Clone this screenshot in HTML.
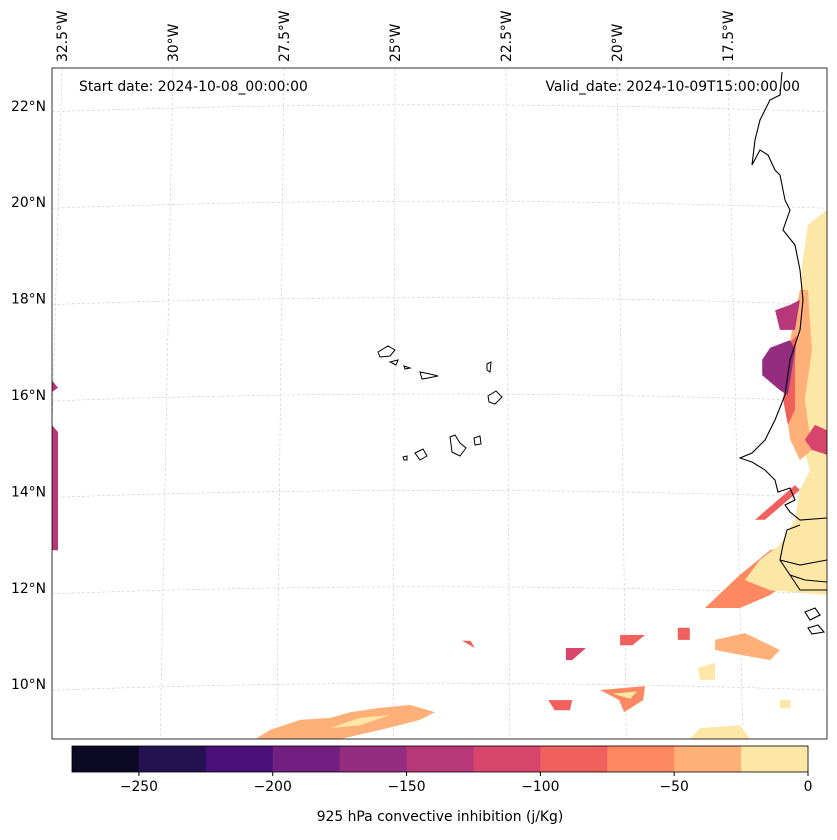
<!DOCTYPE html>
<html><head><meta charset="utf-8"><style>
body{margin:0;background:#fff;font-family:"DejaVu Sans",sans-serif}
svg text{font-family:"DejaVu Sans",sans-serif;font-size:13.9px;fill:#000}
</style></head><body>
<svg id="c" width="837" height="836" xmlns="http://www.w3.org/2000/svg"></svg>
<script>
const levelBounds=[-275,-250,-225,-200,-175,-150,-125,-100,-75,-50,-25,0];
const levelColors=["#0b0924","#231151","#4a1079","#721f81","#942c80","#b73779","#d8456c","#f1605d","#fc8961","#feb078","#fde7a6"];
const cbTicks=[-250,-200,-150,-100,-50,0];
const latTicks=[22,20,18,16,14,12,10];
const lonTicks=[-32.5,-30,-27.5,-25,-22.5,-20,-17.5];
// contour polygons: level index + [lon,lat] vertices
const polyLevels=[8,10,9,7,5,4,6,7,5,5,9,10,10,8,10,7,6,7,7,7,9,10,10];
const polyCoords=[
[[-18.02,11.58],[-17.23,12.27],[-16.55,12.78],[-16.10,12.89],[-16.10,12.16],[-16.55,11.85],[-17.23,11.58]],
[[-15.27,19.84],[-15.70,19.53],[-15.83,18.70],[-15.88,17.97],[-15.77,17.35],[-15.88,16.31],[-15.99,15.48],[-15.65,14.44],[-15.88,14.03],[-15.99,13.41],[-16.33,12.89],[-16.78,12.58],[-17.12,12.16],[-16.55,11.95],[-15.27,11.85]],
[[-15.70,18.18],[-15.88,18.18],[-16.10,17.14],[-16.22,15.90],[-16.10,15.07],[-15.88,14.65],[-15.61,14.86],[-15.77,15.90],[-15.61,16.93]],
[[-15.95,17.24],[-16.15,17.04],[-16.26,15.90],[-16.15,15.38],[-15.99,15.69],[-15.99,16.73]],
[[-16.44,17.76],[-16.10,17.87],[-15.88,17.97],[-15.99,17.35],[-16.33,17.35]],
[[-16.73,16.73],[-16.55,16.98],[-16.10,17.14],[-15.99,16.93],[-16.15,16.00],[-16.33,16.10],[-16.73,16.41]],
[[-15.77,15.07],[-15.54,15.38],[-15.27,15.27],[-15.27,14.76],[-15.61,14.86]],
[[-16.89,13.41],[-16.67,13.41],[-15.88,14.03],[-15.99,14.13]],
[[-32.73,15.38],[-32.59,15.23],[-32.59,12.78],[-32.73,12.78]],
[[-32.73,16.31],[-32.59,16.15],[-32.73,16.06]],
[[-28.15,8.86],[-27.82,9.05],[-27.14,9.26],[-26.46,9.30],[-26.01,9.42],[-25.34,9.51],[-24.66,9.57],[-24.10,9.42],[-24.44,9.26],[-25.34,9.05],[-26.24,8.86]],
[[-26.46,9.09],[-25.79,9.30],[-25.11,9.36],[-25.79,9.15]],
[[-18.36,8.86],[-18.13,9.09],[-17.23,9.15],[-17.00,8.86]],
[[-20.38,9.88],[-19.37,9.96],[-19.41,9.67],[-19.84,9.42],[-19.95,9.67]],
[[-20.10,9.80],[-19.55,9.85],[-19.70,9.70]],
[[-21.55,9.67],[-21.01,9.67],[-21.06,9.46],[-21.40,9.46]],
[[-21.15,10.75],[-20.70,10.75],[-21.01,10.50],[-21.15,10.50]],
[[-19.93,11.02],[-19.37,11.02],[-19.65,10.81],[-19.93,10.81]],
[[-18.63,11.17],[-18.36,11.17],[-18.36,10.92],[-18.63,10.92]],
[[-23.49,10.90],[-23.30,10.90],[-23.20,10.75]],
[[-17.79,10.92],[-17.12,11.06],[-16.33,10.71],[-16.55,10.50],[-17.23,10.61],[-17.79,10.71]],
[[-18.18,10.34],[-17.79,10.44],[-17.79,10.09],[-18.13,10.09]],
[[-16.33,9.67],[-16.10,9.67],[-16.10,9.50],[-16.33,9.50]]
];
const NS="http://www.w3.org/2000/svg";
const svg=document.getElementById('c');
const X=lon=>395+(lon+25)*44.4;
const Y=lat=>395-(lat-16)*48.2;
const AX={l:52,r:827,t:68,b:739};
function el(t,a,p){const e=document.createElementNS(NS,t);for(const k in a)e.setAttribute(k,a[k]);(p||svg).appendChild(e);return e;}
const defs=el('defs',{});const cp=el('clipPath',{id:'clip'},defs);el('rect',{x:AX.l,y:AX.t,width:AX.r-AX.l,height:AX.b-AX.t},cp);
const g=el('g',{'clip-path':'url(#clip)'});
latTicks.forEach(lat=>{const y=Y(lat);const l=el('path',{d:`M${AX.l} ${y+6} Q430 ${y-8} ${AX.r} ${y+6}`,stroke:'#ccc','stroke-width':0.6,'stroke-dasharray':'3,2',fill:'none'},g);
});
lonTicks.forEach(lon=>{const x=X(lon);const l=el('line',{x1:x,y1:AX.t,x2:x+(x-430)*0.05,y2:AX.b,stroke:'#ccc','stroke-width':0.6,'stroke-dasharray':'3,2'},g);
});
polyCoords.forEach((pts,i)=>{const p=el('polygon',{points:pts.map(q=>X(q[0]).toFixed(1)+','+Y(q[1]).toFixed(1)).join(' '),fill:levelColors[polyLevels[i]]},g);
});
const coast=el('path',{d:"M782 72 L780 95 L770 100 L760 120 L755 140 L752 165 L760 150 L768 155 L775 170 L780 175 L785 200 L790 210 L783 230 L795 245 L800 270 L803 300 L800 330 L795 345 L790 360 L785 395 L775 420 L765 440 L752 453 L740 458 L752 462 L765 470 L775 480 L778 492 L790 488 L795 500 L785 505 L790 512 L800 520 L827 518 M800 525 L787 530 L783 545 L780 560 L800 565 L827 560 M780 560 L790 575 L805 580 L827 582 M790 575 L800 590 L827 590 M805 612 L815 608 L820 615 L810 620 Z M808 628 L818 625 L824 632 L812 634 Z",stroke:'#000','stroke-width':1.1,fill:'none'},g);

const islands="M378 352 L388 346 L395 350 L390 356 L380 357 Z M390 362 L398 360 L396 365 Z M404 366 L410 368 L405 369 Z M420 372 L430 374 L438 376 L428 378 L422 379 Z M487 364 L491 362 L490 372 L487 370 Z M488 396 L496 391 L502 397 L495 404 L489 402 Z M415 453 L423 449 L427 456 L420 460 Z M403 457 L407 456 L407 460 L404 460 Z M450 437 L455 435 L460 443 L466 448 L460 456 L452 452 L451 444 Z M474 438 L480 436 L481 444 L475 445 Z";
const isl=el('path',{d:islands,stroke:'#000','stroke-width':1,fill:'none'},g);

el('rect',{x:AX.l,y:AX.t,width:AX.r-AX.l,height:AX.b-AX.t,fill:'none',stroke:'#000','stroke-width':0.8});
latTicks.forEach(lat=>{const t=el('text',{x:46,y:Y(lat)+5,'text-anchor':'end'});t.textContent=lat+'°N';
});
lonTicks.forEach(lon=>{const x=X(lon)+5;const t=el('text',{x:x,y:62,transform:`rotate(-90 ${x} 62)`});t.textContent=Math.abs(lon)+'°W';
});
const s1=el('text',{x:79,y:91});s1.textContent='Start date: 2024-10-08_00:00:00';
const s2=el('text',{x:800,y:91,'text-anchor':'end'});s2.textContent='Valid_date: 2024-10-09T15:00:00.00';
const CB={l:72,r:808,t:746,b:772};
const cx=v=>CB.l+(v-levelBounds[0])/(levelBounds[levelBounds.length-1]-levelBounds[0])*(CB.r-CB.l);
levelColors.forEach((c,i)=>{const r=el('rect',{x:cx(levelBounds[i]),y:CB.t,width:cx(levelBounds[i+1])-cx(levelBounds[i])+0.5,height:CB.b-CB.t,fill:c});
});
el('rect',{x:CB.l,y:CB.t,width:CB.r-CB.l,height:CB.b-CB.t,fill:'none',stroke:'#000','stroke-width':0.8});
cbTicks.forEach(v=>{const x=cx(v);el('line',{x1:x,y1:CB.b,x2:x,y2:CB.b+4,stroke:'#000'});
const t=el('text',{x:x,y:CB.b+19,'text-anchor':'middle'});t.textContent=v<0?'−'+(-v):v;
});
const ct=el('text',{x:440,y:821,'text-anchor':'middle'});ct.textContent='925 hPa convective inhibition (j/Kg)';

</script>
</body></html>
